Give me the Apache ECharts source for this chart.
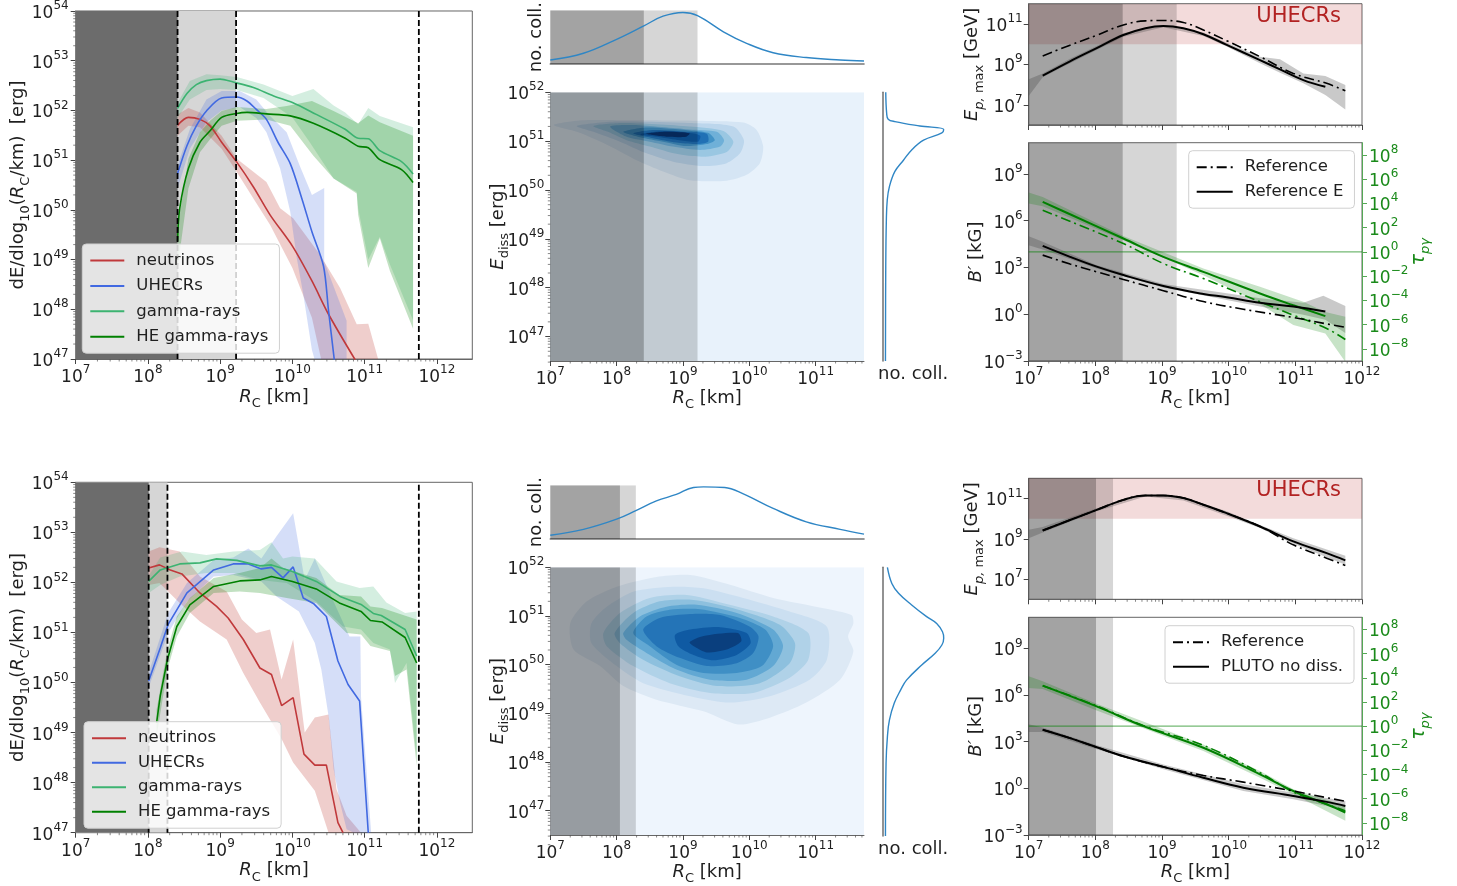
<!DOCTYPE html>
<html>
<head>
<meta charset="utf-8">
<script src="https://cdn.jsdelivr.net/npm/echarts@6/dist/echarts.min.js"></script>
<style>html,body{margin:0;background:#fff}#main{width:1457px;height:886px}</style>
</head>
<body>
<div id="main"></div>
<script>
// all curves are [log10 Rc, log10 value]

// ---- left column, top
var topNeutrino = [[8.41,51.7],[8.56,51.86],[8.72,51.82],[8.86,51.69],[9.02,51.36],[9.23,50.96],[9.46,50.46],[9.69,49.9],[10,49.27],[10.27,48.57],[10.5,47.9],[10.87,46.98]];
var topNeutrinoHi = [[8.41,51.92],[8.56,52.05],[8.72,51.96],[9.02,51.49],[9.23,51.03],[9.64,50.56],[9.83,50.03],[10.01,49.83],[10.38,49.1],[10.66,48.43],[10.89,47.7],[11.05,47.71],[11.19,46.98]];
var topNeutrinoLo = [[8.41,51.49],[8.56,51.69],[8.72,51.66],[9.02,51.23],[9.23,50.76],[9.46,50.23],[9.69,49.7],[10,48.83],[10.27,47.83],[10.4,46.98]];
var topUhecr = [[8.41,50.73],[8.54,51.29],[8.67,51.69],[8.81,51.99],[9.02,52.25],[9.23,52.27],[9.37,52.19],[9.5,52.02],[9.64,51.82],[9.8,51.36],[9.97,50.93],[10.13,50.23],[10.27,49.56],[10.43,48.87],[10.5,47.97],[10.58,46.98]];
var topUhecrHi = [[8.41,50.89],[8.58,51.62],[8.81,52.22],[9.02,52.39],[9.27,52.39],[9.5,52.22],[9.69,51.89],[9.92,51.56],[10.1,50.89],[10.27,50.3],[10.44,50.44],[10.44,48.96],[10.75,47.77],[10.75,46.98]];
var topUhecrLo = [[8.41,50.43],[8.58,51.23],[8.81,51.76],[9.02,52],[9.27,52.07],[9.5,51.85],[9.64,51.56],[9.83,50.83],[9.97,49.96],[10.06,49.03],[10.15,48.3],[10.27,47.18],[10.31,46.98]];
var topGamma = [[8.41,52.04],[8.54,52.34],[8.67,52.52],[8.81,52.6],[9,52.63],[9.18,52.57],[9.46,52.46],[9.74,52.29],[10,52.16],[10.33,51.92],[10.73,51.62],[10.91,51.44],[11.05,51.43],[11.21,51.19],[11.51,50.97],[11.67,50.72]];
var topGammaHi = [[8.41,52.15],[8.58,52.59],[8.81,52.73],[9,52.71],[9.23,52.67],[9.6,52.52],[10,52.29],[10.29,52.43],[10.57,52.1],[10.73,51.96],[10.91,51.72],[11.05,52.05],[11.21,51.89],[11.67,51.66]];
var topGammaLo = [[8.41,51.85],[8.58,52.22],[8.81,52.41],[9,52.43],[9.23,52.41],[9.6,52.25],[10,51.86],[10.24,51.36],[10.57,50.63],[10.89,50.36],[10.91,50.03],[11.05,49],[11.21,49.46],[11.35,48.9],[11.67,47.78]];
var topHe = [[8.41,49.37],[8.44,50.03],[8.56,50.83],[8.72,51.36],[8.86,51.59],[9.02,51.86],[9.23,51.94],[9.37,51.96],[9.64,51.93],[9.97,51.89],[10.29,51.74],[10.73,51.44],[10.91,51.28],[11.05,51.25],[11.21,51.01],[11.51,50.81],[11.67,50.55]];
var topHeHi = [[8.41,49.63],[8.56,51.03],[8.72,51.56],[8.86,51.79],[9.02,51.99],[9.23,52.07],[9.64,52.03],[9.92,52.09],[10.27,52.19],[10.57,51.99],[10.91,51.74],[11.05,51.9],[11.21,51.76],[11.67,51.49]];
var topHeLo = [[8.41,48.83],[8.56,50.43],[8.72,51.16],[8.86,51.42],[9.02,51.69],[9.23,51.79],[9.64,51.82],[9.97,51.69],[10.29,51.09],[10.57,50.63],[10.89,50.33],[10.91,49.9],[11.05,48.83],[11.21,49.43],[11.35,48.77],[11.67,47.61]];

// ---- left column, bottom
var botNeutrino = [[8.01,52.29],[8.16,52.35],[8.31,52.25],[8.47,52.17],[8.72,51.79],[8.95,51.52],[9.11,51.29],[9.32,50.86],[9.55,50.29],[9.71,50.16],[9.85,49.54],[10.01,49.7],[10.16,48.57],[10.31,48.35],[10.47,48.35],[10.63,47.2],[10.7,47]];
var botNeutrinoHi = [[8.01,52.62],[8.16,52.7],[8.44,52.62],[8.72,52.12],[9.09,51.82],[9.3,51.26],[9.5,50.99],[9.69,51.06],[9.85,50.06],[10.01,50.86],[10.17,49],[10.31,49.3],[10.5,49.36],[10.61,47.87],[10.75,47.34],[10.95,47]];
var botNeutrinoLo = [[8.01,51.95],[8.16,51.99],[8.44,51.59],[8.72,51.22],[9.09,50.86],[9.32,50.19],[9.55,49.6],[9.85,48.87],[10.01,48.4],[10.31,47.84],[10.5,47]];
var botUhecr = [[8.01,50.03],[8.17,50.69],[8.28,51.16],[8.54,51.79],[8.91,52.25],[9.18,52.37],[9.39,52.37],[9.57,52.27],[9.71,52.3],[9.87,52.09],[10.01,52.31],[10.15,51.69],[10.29,51.58],[10.47,51.32],[10.63,50.43],[10.77,49.96],[10.93,49.63],[11.05,47]];
var botUhecrHi = [[8.01,50.19],[8.28,51.39],[8.54,51.99],[8.91,52.45],[9.18,52.5],[9.39,52.68],[9.57,52.48],[9.78,52.92],[10.01,53.38],[10.17,52.05],[10.31,52.48],[10.56,51.65],[10.79,50.92],[10.94,50.92],[10.95,49.7],[11.09,47]];
var botUhecrLo = [[8.01,49.9],[8.28,50.99],[8.54,51.62],[8.91,52.12],[9.18,52.15],[9.57,52.02],[9.78,51.72],[10.09,51.42],[10.31,50.79],[10.4,50.26],[10.5,49.33],[10.57,48.27],[10.66,47.6],[10.75,47.07],[10.85,47]];
var botGamma = [[8.01,52.02],[8.17,52.25],[8.44,52.37],[8.72,52.39],[8.95,52.47],[9.23,52.44],[9.55,52.33],[9.71,52.35],[10,52.22],[10.33,52.02],[10.66,51.72],[10.95,51.56],[11.12,51.38],[11.23,51.34],[11.56,51.06],[11.72,50.53]];
var botGammaHi = [[8.01,52.13],[8.17,52.5],[8.47,52.62],[8.81,52.55],[9.18,52.62],[9.55,52.65],[9.71,52.8],[9.87,52.48],[10,52.52],[10.31,52.48],[10.61,52.02],[10.93,51.89],[11.12,51.92],[11.3,51.6],[11.56,51.39],[11.72,51.42]];
var botGammaLo = [[8.01,51.79],[8.17,51.95],[8.44,52.12],[8.81,52.19],[9.18,52.19],[9.55,52.05],[9.92,51.99],[10.33,51.62],[10.7,51.12],[10.95,51.06],[11.12,50.79],[11.35,50.66],[11.42,49.99],[11.58,50.39],[11.72,48.47]];
var botHe = [[8.12,49.2],[8.17,49.73],[8.27,50.46],[8.4,51.12],[8.58,51.55],[8.91,51.92],[9.27,52.03],[9.55,52.05],[9.71,52.12],[10,52.02],[10.33,51.87],[10.65,51.59],[10.95,51.42],[11.08,51.24],[11.24,51.21],[11.56,50.9],[11.72,50.39]];
var botHeHi = [[8.12,49.46],[8.27,50.66],[8.4,51.32],[8.58,51.69],[8.91,52.09],[9.27,52.19],[9.55,52.29],[9.71,52.48],[9.87,52.29],[10.33,52.09],[10.65,51.75],[10.95,51.72],[11.08,51.52],[11.24,51.49],[11.72,51.26]];
var botHeLo = [[8.12,48.93],[8.27,50.26],[8.4,50.92],[8.58,51.39],[8.91,51.79],[9.27,51.82],[9.55,51.79],[9.92,51.69],[10.33,51.59],[10.75,50.99],[10.95,50.96],[11.08,50.73],[11.35,50.63],[11.42,50.13],[11.58,50.26],[11.72,48.33]];

// ---- middle column: marginals, x curve is [log10 Rc, count], y curve is [count, log10 E]
var topCollR = [[7,0.075],[7.5,0.2],[8,0.46],[8.41,0.71],[8.7,0.89],[9,0.96],[9.22,0.9],[9.61,0.6],[9.96,0.385],[10.36,0.21],[10.86,0.12],[11.37,0.075],[11.73,0.055]];
var topCollE = [[0.05,52],[0.065,51.57],[0.09,51.45],[0.2,51.4],[0.61,51.31],[1,51.24],[0.97,51.17],[0.67,51.02],[0.475,50.82],[0.34,50.61],[0.2,50.38],[0.11,50.07],[0.075,49.8],[0.06,49.39],[0.05,48.43],[0.045,46.5]];
var botCollR = [[7,0.07],[7.5,0.18],[8,0.37],[8.29,0.53],[8.6,0.71],[8.9,0.83],[9.16,0.96],[9.31,0.97],[9.63,0.96],[9.91,0.84],[10.36,0.57],[10.86,0.32],[11.37,0.18],[11.73,0.09]];
var botCollE = [[0.077,52],[0.15,51.67],[0.26,51.47],[0.475,51.23],[0.72,50.99],[0.885,50.85],[0.98,50.68],[1,50.55],[0.97,50.41],[0.86,50.24],[0.64,50],[0.39,49.69],[0.295,49.49],[0.19,49.22],[0.11,48.87],[0.077,48.53],[0.055,47.99],[0.045,46.5]];

// density contour levels, outermost first
var topLevels = [
  [[7.05,51.33],[7.4,51.42],[8,51.43],[9.2,51.42],[9.91,51.38],[10.11,51.23],[10.21,50.89],[10.16,50.55],[9.96,50.31],[9.66,50.19],[9.1,50.2],[8.7,50.38],[8.3,50.61],[7.8,50.96],[7.4,51.19]],
  [[7.4,51.31],[8,51.4],[9.1,51.37],[9.76,51.3],[9.92,51.02],[9.86,50.75],[9.66,50.55],[9.3,50.49],[8.85,50.58],[8.45,50.75],[8.05,50.99],[7.65,51.19]],
  [[7.65,51.31],[8.1,51.37],[9.1,51.3],[9.61,51.21],[9.76,50.99],[9.66,50.78],[9.3,50.68],[8.9,50.74],[8.5,50.89],[8.15,51.02],[7.87,51.19]],
  [[7.9,51.3],[8.25,51.33],[9.1,51.24],[9.51,51.19],[9.62,51.02],[9.56,50.89],[9.26,50.82],[8.85,50.89],[8.5,50.99],[8.15,51.09]],
  [[8.1,51.19],[8.45,51.28],[9.1,51.22],[9.38,51.17],[9.48,51.02],[9.36,50.94],[9.05,50.9],[8.7,50.99],[8.35,51.08]],
  [[8.25,51.16],[8.55,51.23],[9.1,51.19],[9.36,51.15],[9.38,50.99],[9.2,50.94],[8.9,50.97],[8.55,51.06]],
  [[8.35,51.14],[8.7,51.21],[9.1,51.17],[9.26,51.11],[9.23,50.99],[8.95,51.02],[8.65,51.08]],
  [[8.45,51.15],[8.75,51.19],[9.1,51.16],[9.05,51.09],[8.75,51.09]]
];
var topLevelColors = ['#d5e5f4','#bcd6ec','#9ac7e2','#6fb0d8','#4292c6','#2171b5','#0f5aa3','#08306b'];
var botLevels = [
  [[7.3,50.85],[7.55,51.3],[8,51.6],[8.6,51.8],[9.11,51.84],[9.71,51.64],[10.36,51.37],[11.12,51.16],[11.54,51.02],[11.57,50.85],[11.49,50.58],[11.57,50.27],[11.37,49.69],[10.86,49.22],[10.31,48.91],[9.83,48.77],[9.31,49.04],[8.6,49.28],[8.1,49.56],[7.75,49.97],[7.35,50.31]],
  [[7.62,50.85],[7.85,51.19],[8.25,51.5],[8.85,51.6],[9.31,51.57],[9.91,51.37],[10.61,51.09],[11.17,50.78],[11.17,50.1],[10.91,49.69],[10.31,49.35],[9.71,49.22],[9.11,49.35],[8.4,49.62],[8,49.97],[7.62,50.44]],
  [[7.8,50.65],[8.05,51.06],[8.5,51.37],[9.06,51.43],[9.61,51.26],[10.36,50.99],[10.89,50.65],[10.89,50.1],[10.61,49.73],[10.06,49.42],[9.41,49.42],[8.8,49.62],[8.25,49.97],[7.85,50.38]],
  [[7.97,50.65],[8.25,51.06],[8.65,51.3],[9.16,51.33],[9.76,51.16],[10.46,50.82],[10.69,50.44],[10.61,50.03],[10.16,49.62],[9.51,49.56],[8.95,49.76],[8.4,50.1],[8.05,50.44]],
  [[8.1,50.65],[8.35,50.99],[8.75,51.19],[9.21,51.23],[9.81,51.06],[10.36,50.72],[10.51,50.38],[10.36,49.97],[9.96,49.69],[9.41,49.69],[8.9,49.9],[8.45,50.24],[8.15,50.51]],
  [[8.25,50.65],[8.45,50.99],[8.8,51.13],[9.26,51.14],[9.86,50.96],[10.24,50.72],[10.36,50.38],[10.19,49.97],[9.81,49.83],[9.31,49.83],[8.9,50],[8.5,50.38]],
  [[8.4,50.72],[8.65,50.96],[9.11,51.04],[9.56,51.02],[10.01,50.78],[10.14,50.58],[10.06,50.24],[9.81,50.03],[9.36,49.97],[8.95,50.14],[8.6,50.38]],
  [[8.88,50.61],[9.11,50.72],[9.56,50.77],[9.96,50.65],[10.02,50.44],[9.81,50.2],[9.46,50.09],[9.16,50.2],[8.93,50.38]],
  [[9.1,50.46],[9.31,50.59],[9.83,50.65],[9.88,50.48],[9.66,50.31],[9.36,50.25],[9.21,50.34]]
];
var botLevelColors = ['#dde9f5','#cbdff1','#b0d2e8','#8dc0de','#62a8d3','#3f8fc5','#2474b7','#0f5aa3','#0a3f7e'];

// ---- right column, top
var topEp = [[7.21,8.44],[7.62,9.15],[8.02,9.8],[8.42,10.45],[8.75,10.79],[9.02,10.9],[9.32,10.79],[9.62,10.49],[9.97,9.96],[10.47,9.21],[10.77,8.75],[11.12,8.22],[11.45,7.89]];
var topEpRef = [[7.21,9.41],[7.62,9.95],[8.02,10.44],[8.42,10.95],[8.75,11.15],[9.02,11.17],[9.32,11.07],[9.62,10.7],[9.97,10.17],[10.47,9.38],[10.97,8.55],[11.47,8.06],[11.75,7.69]];
var topEpHi = [[7,8.26],[7.21,8.55],[7.62,9.28],[8.42,10.54],[9.02,10.95],[9.62,10.57],[9.97,10.07],[10.47,9.38],[10.77,9.25],[11.12,8.55],[11.45,8.42],[11.75,7.98]];
var topEpLo = [[7,7.43],[7.21,8.36],[7.62,9.05],[8.42,10.37],[9.02,10.83],[9.62,10.4],[9.97,9.88],[10.47,9.05],[10.77,8.59],[11.12,8.06],[11.45,7.48],[11.75,6.77]];
var topB = [[7.21,4.38],[7.62,3.68],[8.02,3.05],[8.42,2.51],[9.02,1.81],[9.62,1.3],[9.97,1.09],[10.47,0.74],[10.97,0.49],[11.45,0.17]];
var topBRef = [[7.21,3.79],[7.62,3.22],[8.02,2.72],[8.42,2.23],[9.02,1.51],[9.62,0.81],[10.22,0.32],[10.97,-0.21],[11.47,-0.62],[11.75,-0.83]];
var topBHi = [[7,5],[7.21,4.64],[8.02,3.14],[9.02,1.94],[9.97,1.34],[10.47,1.02],[11.12,0.74],[11.42,1.19],[11.75,0.53]];
var topBLo = [[7,4.43],[7.21,4.15],[8.02,2.93],[9.02,1.72],[9.97,0.91],[10.47,0.49],[11.12,-0.04],[11.45,-0.36],[11.75,-1.21]];
var topTau = [[7.21,4.12],[7.62,3.1],[8.42,1.1],[9.02,-0.41],[9.62,-1.65],[10.47,-3.43],[10.97,-4.4],[11.45,-5.3]];
var topTauRef = [[7.21,3.43],[8.42,0.68],[9.02,-0.96],[9.62,-2.2],[10.47,-4.12],[10.97,-5.22],[11.47,-6.32],[11.75,-7.23]];
var topTauHi = [[7,4.89],[7.21,4.53],[8.42,1.3],[9.62,-1.37],[10.47,-2.88],[11.12,-4.12],[11.45,-4.95],[11.75,-5.36]];
var topTauLo = [[7,3.98],[7.21,3.76],[8.42,0.95],[9.62,-1.92],[10.37,-3.98],[10.97,-6.04],[11.45,-6.73],[11.75,-9.07]];

// ---- right column, bottom
var botEp = [[7.21,9.41],[7.62,9.93],[8.01,10.42],[8.42,10.93],[8.75,11.15],[9.02,11.15],[9.32,11.02],[9.62,10.69],[9.97,10.27],[10.47,9.61],[10.97,8.87],[11.47,8.29],[11.75,7.93]];
var botEpRef = [[7.21,9.41],[7.62,9.93],[8.01,10.42],[8.42,10.93],[8.75,11.15],[9.02,11.15],[9.32,11.02],[9.62,10.69],[9.97,10.27],[10.47,9.61],[10.97,8.7],[11.47,8.04],[11.75,7.68]];
var botEpHi = [[7,9.45],[7.21,9.58],[8.01,10.5],[8.75,11.2],[9.32,11.07],[9.97,10.36],[10.47,9.69],[10.97,9.03],[11.75,8.16]];
var botEpLo = [[7,9.03],[7.21,9.31],[8.01,10.35],[8.75,11.1],[9.32,10.9],[9.97,10.14],[10.47,9.53],[10.97,8.75],[11.75,7.71]];
var botB = [[7.21,3.77],[7.62,3.23],[8.01,2.66],[8.42,2.06],[9.02,1.38],[9.62,0.68],[10.22,0.04],[10.97,-0.49],[11.47,-0.87],[11.75,-1.13]];
var botBRef = [[7.21,3.77],[7.62,3.23],[8.01,2.66],[8.42,2.06],[9.02,1.38],[9.62,0.83],[10.22,0.4],[10.97,-0.17],[11.47,-0.6],[11.75,-0.83]];
var botBHi = [[7,4.13],[7.21,3.91],[8.01,2.79],[9.02,1.53],[10.22,0.26],[10.97,-0.28],[11.75,-0.81]];
var botBLo = [[7,3.62],[7.21,3.62],[8.01,2.53],[9.02,1.23],[10.22,-0.17],[10.97,-0.7],[11.75,-1.38]];
var botTau = [[7.21,3.35],[8.01,1.65],[8.72,0],[9.62,-1.79],[10.47,-3.98],[10.97,-5.36],[11.47,-6.46],[11.75,-7.14]];
var botTauRef = [[7.21,3.35],[8.01,1.7],[8.72,0.05],[9.62,-1.59],[10.47,-3.85],[10.97,-5.44],[11.47,-6.46],[11.75,-7]];
var botTauHi = [[7,4.12],[7.21,3.71],[8.01,1.87],[9.62,-1.51],[10.47,-3.71],[10.97,-5.22],[11.75,-6.59]];
var botTauLo = [[7,3.16],[7.21,3.08],[8.01,1.32],[9.62,-2.06],[10.47,-4.26],[10.97,-5.63],[11.75,-7.83]];

// collimation regions (log10 Rc): dark up to first value, light up to second
var topRegion = [8.41, 9.22];
var botRegionLeft = [8.01, 8.27];
var botRegionMid = [8.05, 8.29];
var botRegionRight = [8.01, 8.265];
var outerRadius = 11.75;

var leftXTicks = [7,8,9,10,11,12];
var leftYTicks = [47,48,49,50,51,52,53,54];
var midXTicks = [7,8,9,10,11];
var midYTicks = [47,48,49,50,51,52];
var epTicks = [7,9,11];
var bTicks = [-3,0,3,6,9];
var tauTicks = [-8,-6,-4,-2,0,2,4,6,8];

var FONT = 'DejaVu Sans';
var TXT = '#1f1f1f';
var RED = '#c0393b', BLUE = '#4169e1', SEA = '#3cb371', GREEN = '#008000';
var DASHDOT = [10, 4, 2, 4];

var grids = [], xAxes = [], yAxes = [], series = [], legends = [];

function p10(v) { return Math.pow(10, v); }
function raw(pts) { return pts.map(function (p) { return [p10(p[0]), p10(p[1])]; }); }
function band(hi, lo) { return hi.concat(lo.slice().reverse()); }

var labelRich = {
  b: {fontFamily: FONT, fontSize: 17, color: TXT, lineHeight: 22, verticalAlign: 'bottom'},
  s: {fontFamily: FONT, fontSize: 12, color: TXT, lineHeight: 14, verticalAlign: 'top'},
  gb: {fontFamily: FONT, fontSize: 17, color: '#1a8a1a', lineHeight: 22, verticalAlign: 'bottom'},
  gs: {fontFamily: FONT, fontSize: 12, color: '#1a8a1a', lineHeight: 14, verticalAlign: 'top'}
};
var nameRich = {
  n: {fontFamily: FONT, fontSize: 18, color: TXT},
  i: {fontFamily: FONT, fontSize: 18, fontStyle: 'italic', color: TXT},
  d: {fontFamily: FONT, fontSize: 13, color: TXT, verticalAlign: 'bottom', lineHeight: 26},
  di: {fontFamily: FONT, fontSize: 13, fontStyle: 'italic', color: TXT, verticalAlign: 'bottom', lineHeight: 26},
  gi: {fontFamily: FONT, fontSize: 19, fontStyle: 'italic', color: '#1a8a1a'},
  gd: {fontFamily: FONT, fontSize: 13, fontStyle: 'italic', color: '#1a8a1a', verticalAlign: 'bottom', lineHeight: 26}
};

function powerLabel(v, green) {
  var e = Math.round(Math.log10(v));
  var b = green ? 'gb' : 'b', s = green ? 'gs' : 's';
  return '{' + b + '|10}{' + s + '|' + String(e).replace('-', '\u2212') + '}';
}

// log axis with ticks only on the decades listed
function logAxis(lo, hi, ticks, o) {
  o = o || {};
  // pow/log round trip can land just past max and the tick gets dropped
  var vals = ticks.map(function (t) { return p10(t === hi ? t - 1e-6 : t); });
  var a = {
    type: 'log', logBase: 10, min: p10(lo), max: p10(hi), splitLine: {show: false},
    gridIndex: o.grid,
    axisLine: {show: o.line !== false, onZero: false, lineStyle: {color: o.lineColor || '#666', width: o.lineWidth || 1}},
    axisTick: {show: o.tick !== false, length: 5, customValues: vals, lineStyle: {color: o.lineColor || '#444'}},
    axisLabel: {show: o.label !== false, customValues: vals, margin: o.margin || 6, rich: labelRich,
      formatter: function (v) { return powerLabel(v, o.green); }}
  };
  if (o.position) a.position = o.position;
  if (o.name) {
    a.name = o.name; a.nameLocation = 'middle'; a.nameGap = o.nameGap; a.nameMoveOverlap = false;
    a.nameTextStyle = {rich: nameRich, fontFamily: FONT, fontSize: 18, color: TXT};
    if (o.nameRotate != null) a.nameRotate = o.nameRotate;
  }
  return a;
}

function addGrid(left, top, right, bottom, border) {
  grids.push({left: left, top: top, width: right - left, height: bottom - top,
    show: !!border, borderColor: '#666', borderWidth: 1, backgroundColor: 'transparent'});
  return grids.length - 1;
}

// filled polygon in data space, goes through the axes of the panel
function area(xi, yi, pts, color, smooth) {
  var data = raw(pts);
  series.push({type: 'custom', coordinateSystem: 'cartesian2d', xAxisIndex: xi, yAxisIndex: yi,
    clip: true, silent: true, data: data,
    renderItem: function (params, api) {
      if (params.dataIndex !== 0) return null;
      return {type: 'polygon', shape: {points: data.map(function (d) { return api.coord(d); }), smooth: smooth || 0},
        style: {fill: color}};
    }});
}

function curve(xi, yi, pts, color, width, name, dash, smooth) {
  series.push({type: 'line', name: name, xAxisIndex: xi, yAxisIndex: yi, data: raw(pts), symbol: 'none', clip: true,
    silent: true, smooth: smooth || false, lineStyle: {color: color, width: width, type: dash || 'solid'},
    itemStyle: {color: color}});
}

// x linear marginal needs count kept as it is
function marginal(xi, yi, data) {
  series.push({type: 'line', xAxisIndex: xi, yAxisIndex: yi, data: data, symbol: 'none', silent: true, smooth: 0.4,
    lineStyle: {color: '#2f86c5', width: 1.4}});
}

// small log ticks on the panel's left and bottom edges
function minorTicks(xi, yi, dim, lo, hi, at, limit) {
  var data = [];
  for (var e = lo; e < hi; e++) {
    for (var m = 2; m < 10; m++) {
      var v = m * p10(e);
      if (v < p10(limit)) data.push(dim === 'x' ? [v, p10(at)] : [p10(at), v]);
    }
  }
  series.push({type: 'custom', coordinateSystem: 'cartesian2d', xAxisIndex: xi, yAxisIndex: yi, clip: false, silent: true,
    data: data,
    renderItem: function (params, api) {
      var c = api.coord([api.value(0), api.value(1)]);
      var end = dim === 'x' ? [c[0], c[1] + 2.5] : [c[0] - 2.5, c[1]];
      return {type: 'line', shape: {x1: c[0], y1: c[1], x2: end[0], y2: end[1]}, style: {stroke: '#555', lineWidth: 0.7}};
    }});
}

function shade(xi, yi, x0, region, y0, y1, light, dark) {
  area(xi, yi, [[x0, y0], [region[1], y0], [region[1], y1], [x0, y1]], light);
  area(xi, yi, [[x0, y0], [region[0], y0], [region[0], y1], [x0, y1]], dark);
}

function vline(xi, yi, x, y0, y1) {
  curve(xi, yi, [[x, y0], [x, y1]], '#000', 1.8, undefined, [6, 3]);
}

function addLegend(left, top, names, gap, itemWidth) {
  legends.push({left: left, top: top, orient: 'vertical', data: names, selectedMode: false, padding: [8, 11, 8, 7],
    backgroundColor: 'rgba(255,255,255,0.82)', borderColor: '#d0d0d0', borderWidth: 1, borderRadius: 4,
    itemWidth: itemWidth, itemHeight: 14, itemGap: gap, itemStyle: {opacity: 0},
    textStyle: {fontFamily: FONT, fontSize: 16.5, color: TXT, padding: [0, 0, 0, 7]}});
}

var RC_NAME = '{i|R}{d|C}{n| [km]}';

function leftPanel(top, bottom, region, sets, legendTop, legendLeft, legendGap, smooth) {
  var g = addGrid(75.7, top, 472.3, bottom, true);
  xAxes.push(logAxis(7, 12.49, leftXTicks, {grid: g, name: RC_NAME, nameGap: 25, margin: 5}));
  yAxes.push(logAxis(47, 54, leftYTicks, {grid: g, margin: 7, nameGap: 44,
    name: '{n|dE/dlog}{d|10}{n|(}{i|R}{d|C}{n|/km)  [erg]}'}));
  var xi = xAxes.length - 1, yi = yAxes.length - 1;
  area(xi, yi, [[7, 47], [region[1], 47], [region[1], 54], [7, 54]], '#d6d6d6');
  area(xi, yi, [[7, 47], [region[0], 47], [region[0], 54], [7, 54]], '#6c6c6c');
  sets.forEach(function (s) { area(xi, yi, band(s.hi, s.lo), s.fill); });
  sets.forEach(function (s) { curve(xi, yi, s.line, s.color, 1.6, s.name, null, smooth); });
  vline(xi, yi, region[0], 47, 54);
  vline(xi, yi, region[1], 47, 54);
  vline(xi, yi, outerRadius, 47, 54);
  minorTicks(xi, yi, 'x', 7, 12, 47, 12.49);
  minorTicks(xi, yi, 'y', 47, 54, 7, 54);
  addLegend(legendLeft, legendTop, sets.map(function (s) { return s.name; }), legendGap, 34);
}

function midPanel(tTop, tBottom, mTop, mBottom, region, collR, collE, levels, colors, bg) {
  // marginal along Rc
  var g0 = addGrid(550.3, tTop, 864, tBottom);
  xAxes.push(logAxis(7, 11.73, [], {grid: g0, label: false, tick: false, lineColor: '#777', lineWidth: 1.6}));
  yAxes.push({type: 'value', gridIndex: g0, min: 0, max: 1, name: 'no. coll.', nameLocation: 'middle', nameGap: 5,
    nameTextStyle: {fontFamily: FONT, fontSize: 18, color: TXT}, axisLine: {show: false}, axisTick: {show: false},
    axisLabel: {show: false}, splitLine: {show: false}});
  var xi = xAxes.length - 1, yi = yAxes.length - 1;
  // fills of the marginal, x limits in log, y limits on the count axis
  [[region[1], 'rgba(0,0,0,0.16)'], [region[0], 'rgba(0,0,0,0.24)']].forEach(function (r) {
    var pts = [[p10(7), 0], [p10(r[0]), 0], [p10(r[0]), 1], [p10(7), 1]];
    series.push({type: 'custom', coordinateSystem: 'cartesian2d', xAxisIndex: xi, yAxisIndex: yi, clip: true, silent: true, data: pts,
      renderItem: function (params, api) {
        if (params.dataIndex !== 0) return null;
        return {type: 'polygon', shape: {points: pts.map(function (d) { return api.coord(d); })}, style: {fill: r[1]}};
      }});
  });
  marginal(xi, yi, collR.map(function (p) { return [p10(p[0]), p[1]]; }));

  // density map
  var g1 = addGrid(550.3, mTop, 864, mBottom);
  xAxes.push(logAxis(7, 11.73, midXTicks, {grid: g1, name: RC_NAME, nameGap: 24, margin: 5}));
  yAxes.push(logAxis(46.5, 52, midYTicks, {grid: g1, margin: 6, nameGap: 39, name: '{i|E}{d|diss}{n| [erg]}'}));
  xi = xAxes.length - 1; yi = yAxes.length - 1;
  area(xi, yi, [[7, 46.5], [11.73, 46.5], [11.73, 52], [7, 52]], bg);
  levels.forEach(function (lv, i) { area(xi, yi, lv, colors[i], 0.25); });
  shade(xi, yi, 7, region, 46.5, 52, 'rgba(0,0,0,0.16)', 'rgba(0,0,0,0.24)');
  minorTicks(xi, yi, 'x', 7, 12, 46.5, 11.73);
  minorTicks(xi, yi, 'y', 46, 52, 7, 52);

  // marginal along E
  var g2 = addGrid(882.7, mTop, 943.7, mBottom);
  xAxes.push({type: 'value', gridIndex: g2, min: 0, max: 1, name: 'no. coll.', nameLocation: 'middle', nameGap: 4,
    nameTextStyle: {fontFamily: FONT, fontSize: 18, color: TXT, verticalAlign: 'top'}, axisLine: {show: false}, axisTick: {show: false},
    axisLabel: {show: false}, splitLine: {show: false}});
  yAxes.push(logAxis(46.5, 52, [], {grid: g2, label: false, tick: false, lineColor: '#777', lineWidth: 1.6}));
  marginal(xAxes.length - 1, yAxes.length - 1, collE.map(function (p) { return [p[0], p10(p[1])]; }));
}

function rightPanel(t0, b0, t1, b1, region, d, solidName) {
  var S = 0.4;
  // maximum proton energy
  var g0 = addGrid(1028.7, t0, 1362, b0, true);
  xAxes.push(logAxis(7, 12, leftXTicks, {grid: g0, label: false}));
  yAxes.push(logAxis(6, 12, epTicks, {grid: g0, nameGap: 43, name: '{i|E}{di|p,}{d| max}{n| [GeV]}'}));
  var xi = xAxes.length - 1, yi = yAxes.length - 1;
  area(xi, yi, [[7, 10], [12, 10], [12, 12], [7, 12]], 'rgba(178,34,34,0.16)');
  shade(xi, yi, 7, region, 6, 12, 'rgba(0,0,0,0.16)', 'rgba(0,0,0,0.24)');
  area(xi, yi, band(d.epHi, d.epLo), 'rgba(60,60,60,0.28)');
  curve(xi, yi, d.ep, '#000', 2, undefined, null, S);
  curve(xi, yi, d.epRef, '#000', 1.6, undefined, DASHDOT, S);
  minorTicks(xi, yi, 'x', 7, 12, 6, 12);
  var labelAt = [[p10(11.05), p10(11.37)]];
  series.push({type: 'custom', coordinateSystem: 'cartesian2d', xAxisIndex: xi, yAxisIndex: yi, silent: true, data: labelAt,
    renderItem: function (params, api) {
      var c = api.coord(labelAt[0]);
      return {type: 'text', style: {text: 'UHECRs', x: c[0], y: c[1], fill: '#b22222', fontFamily: FONT, fontSize: 21,
        textAlign: 'center', textVerticalAlign: 'middle'}};
    }});

  // magnetic field and optical depth
  var g1 = addGrid(1028.7, t1, 1362, b1, true);
  xAxes.push(logAxis(7, 12, leftXTicks, {grid: g1, name: RC_NAME, nameGap: 24, margin: 5}));
  yAxes.push(logAxis(-3, 11, bTicks, {grid: g1, nameGap: 43, name: "{i|B\u2032}{n| [kG]}"}));
  xi = xAxes.length - 1; yi = yAxes.length - 1;
  yAxes.push(logAxis(-9, 9, tauTicks, {grid: g1, position: 'right', green: true, margin: 7, lineColor: '#55a855',
    nameGap: 44, nameRotate: 90, name: '{gi|\u03C4}{gd|p\u03B3}'}));
  var yr = yAxes.length - 1;
  shade(xi, yi, 7, region, -3, 11, 'rgba(0,0,0,0.16)', 'rgba(0,0,0,0.24)');
  area(xi, yi, band(d.bHi, d.bLo), 'rgba(60,60,60,0.28)');
  area(xi, yr, band(d.tauHi, d.tauLo), 'rgba(0,128,0,0.22)');
  curve(xi, yr, [[7, 0], [12, 0]], 'rgba(0,128,0,0.55)', 1.2);
  curve(xi, yr, d.tau, GREEN, 2, undefined, null, S);
  curve(xi, yr, d.tauRef, GREEN, 1.6, undefined, DASHDOT, S);
  curve(xi, yi, d.b, '#000', 2, solidName, null, S);
  curve(xi, yi, d.bRef, '#000', 1.6, 'Reference', DASHDOT, S);
  minorTicks(xi, yi, 'x', 7, 12, -3, 12);
}

leftPanel(7.3, 359, topRegion, [
  {name: 'neutrinos', line: topNeutrino, hi: topNeutrinoHi, lo: topNeutrinoLo, color: RED, fill: 'rgba(190,60,50,0.25)'},
  {name: 'UHECRs', line: topUhecr, hi: topUhecrHi, lo: topUhecrLo, color: BLUE, fill: 'rgba(65,105,225,0.22)'},
  {name: 'gamma-rays', line: topGamma, hi: topGammaHi, lo: topGammaLo, color: SEA, fill: 'rgba(60,179,113,0.22)'},
  {name: 'HE gamma-rays', line: topHe, hi: topHeHi, lo: topHeLo, color: GREEN, fill: 'rgba(0,128,0,0.24)'}
], 244, 82.3, 8.4, 0.3);
leftPanel(482.3, 832.7, botRegionLeft, [
  {name: 'neutrinos', line: botNeutrino, hi: botNeutrinoHi, lo: botNeutrinoLo, color: RED, fill: 'rgba(190,60,50,0.25)'},
  {name: 'UHECRs', line: botUhecr, hi: botUhecrHi, lo: botUhecrLo, color: BLUE, fill: 'rgba(65,105,225,0.22)'},
  {name: 'gamma-rays', line: botGamma, hi: botGammaHi, lo: botGammaLo, color: SEA, fill: 'rgba(60,179,113,0.22)'},
  {name: 'HE gamma-rays', line: botHe, hi: botHeHi, lo: botHeLo, color: GREEN, fill: 'rgba(0,128,0,0.24)'}
], 721.7, 84, 7.5, false);

midPanel(10.3, 64, 92.3, 361, topRegion, topCollR, topCollE, topLevels, topLevelColors, '#e8f2fb');
midPanel(485.3, 539, 567.3, 836, botRegionMid, botCollR, botCollE, botLevels, botLevelColors, '#eef5fd');

rightPanel(3.7, 125, 142.7, 361, topRegion, {ep: topEp, epRef: topEpRef, epHi: topEpHi, epLo: topEpLo,
  b: topB, bRef: topBRef, bHi: topBHi, bLo: topBLo, tau: topTau, tauRef: topTauRef, tauHi: topTauHi, tauLo: topTauLo}, 'Reference E');
rightPanel(478.3, 599.3, 617.3, 836, botRegionRight, {ep: botEp, epRef: botEpRef, epHi: botEpHi, epLo: botEpLo,
  b: botB, bRef: botBRef, bHi: botBHi, bLo: botBLo, tau: botTau, tauRef: botTauRef, tauHi: botTauHi, tauLo: botTauLo}, 'PLUTO no diss.');
addLegend(1188.7, 150.7, ['Reference', 'Reference E'], 7.5, 36);
addLegend(1165, 625.7, ['Reference', 'PLUTO no diss.'], 7.5, 36);

var myChart = echarts.init(document.getElementById('main'));
myChart.setOption({
  animation: false,
  backgroundColor: '#fff',
  textStyle: {fontFamily: FONT},
  grid: grids, xAxis: xAxes, yAxis: yAxes, legend: legends, series: series
});
</script>
</body>
</html>
